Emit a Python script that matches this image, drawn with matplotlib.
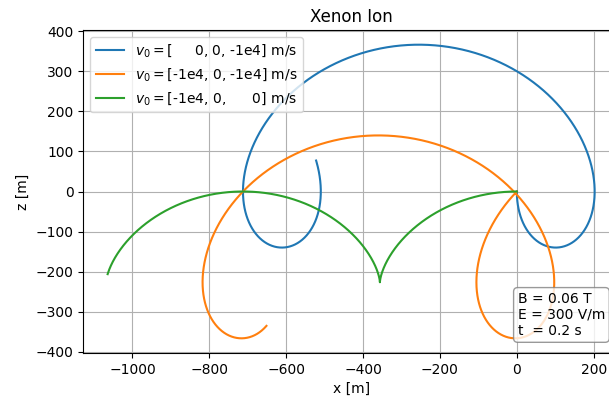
import numpy as np
import matplotlib
matplotlib.use("Agg")
import matplotlib.pyplot as plt

# field / particle parameters (as printed on the chart)
B_field = 0.06          # T, along +y
E_field = 300.0         # V/m, along +z
t_end = 0.2             # s
q_ion = 1.602177e-19    # C
m_ion = 131.293 / 6.02214e23   # xenon molar mass / N_A

# initial velocities [vx, vy, vz] in m/s
v0_list = [[0, 0, -1e4], [-1e4, 0, -1e4], [-1e4, 0, 0]]
labels = [r"$v_0 = $[     0, 0, -1e4] m/s",
          r"$v_0 = $[-1e4, 0, -1e4] m/s",
          r"$v_0 = $[-1e4, 0,      0] m/s"]


def trajectory(v0, t):
    # exact solution of the Lorentz force for crossed E (z) and B (y)
    w = q_ion * B_field / m_ion
    vd = -E_field / B_field          # E x B drift along x
    ux, uz = v0[0] - vd, v0[2]
    u = np.hypot(ux, uz)
    phi0 = np.arctan2(uz, ux)
    phi = phi0 + w * t
    x = vd * t + u / w * (np.sin(phi) - np.sin(phi0))
    z = -u / w * (np.cos(phi) - np.cos(phi0))
    return x, z


t = np.linspace(0, t_end, 2000)

fig = plt.figure(figsize=(6.09, 4.01), dpi=100)
ax = fig.add_axes([83.3 / 609, 48 / 401, (619 - 83.3) / 609, 323 / 401])

for v0, lab in zip(v0_list, labels):
    x, z = trajectory(v0, t)
    ax.plot(x, z, label=lab)

ax.set_title('Xenon Ion')
ax.set_xlabel('x [m]')
ax.set_ylabel('z [m]')
ax.grid(True)
ax.legend(loc='upper left')

ax.text(0.811, 0.046, 'B = 0.06 T\nE = 300 V/m\nt  = 0.2 s',
        transform=ax.transAxes, ha='left', va='bottom',
        bbox=dict(boxstyle='round', facecolor='white', edgecolor='gray', alpha=0.8))

fig.savefig('out.png', dpi=100)
